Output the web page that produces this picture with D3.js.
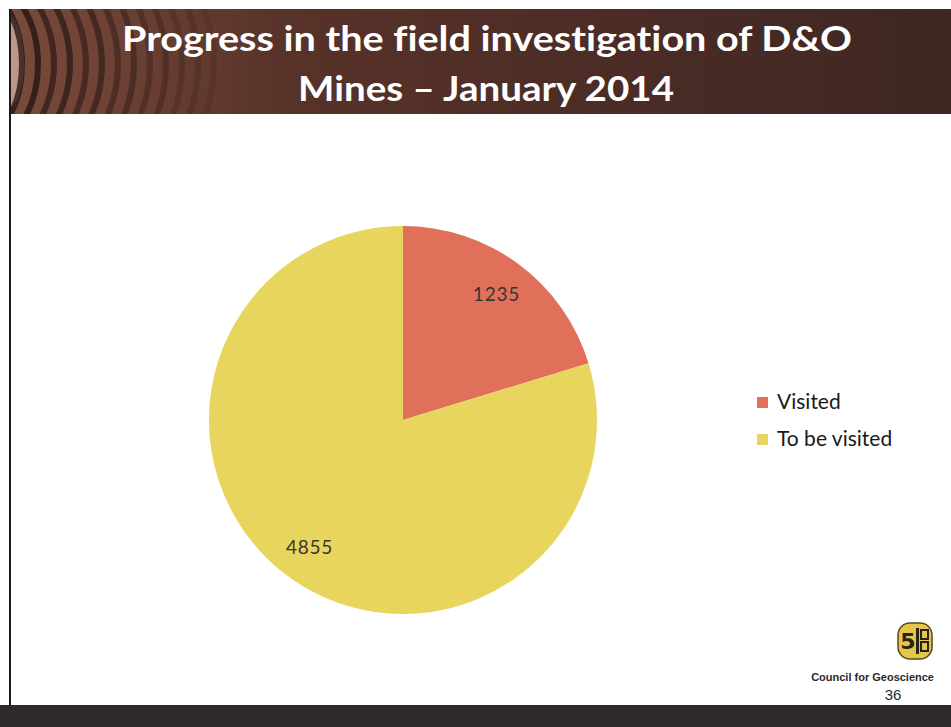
<!DOCTYPE html>
<html>
<head>
<meta charset="utf-8">
<script src="https://cdn.jsdelivr.net/npm/d3@7/dist/d3.min.js"></script>
<style>
  html, body { margin: 0; padding: 0; background: #fff; }
  svg { display: block; }
  text { font-variant-ligatures: none; }
</style>
</head>
<body>
<svg id="slide" width="951" height="727"></svg>
<script>
// Survey status of derelict and ownerless mines
const categories = ["Visited", "To be visited"];
const mineCounts = [1235, 4855];
const sliceColors = ["#e0705a", "#e8d55e"];
const titleLines = ["Progress in the field investigation of D&O", "Mines \u2013 January 2014"];

const W = 951, H = 727;
const svg = d3.select("#slide");
const defs = svg.append("defs");

// Header band
const hdrGrad = defs.append("linearGradient").attr("id", "hdrGrad")
  .attr("x1", "0%").attr("x2", "100%").attr("y1", "0%").attr("y2", "0%");
hdrGrad.append("stop").attr("offset", "0%").attr("stop-color", "#7a4a3c");
hdrGrad.append("stop").attr("offset", "30%").attr("stop-color", "#573229");
hdrGrad.append("stop").attr("offset", "100%").attr("stop-color", "#3f2622");

defs.append("clipPath").attr("id", "hdrClip")
  .append("rect").attr("x", 10).attr("y", 9).attr("width", W - 10).attr("height", 105);

svg.append("rect").attr("x", 10).attr("y", 9).attr("width", W - 10).attr("height", 105)
  .attr("fill", "url(#hdrGrad)");

// wood-grain rings at the left end of the header
const rings = svg.append("g").attr("clip-path", "url(#hdrClip)");
rings.append("ellipse").attr("cx", 8).attr("cy", 62).attr("rx", 16).attr("ry", 46)
  .attr("fill", "#c9a39a").attr("opacity", 0.85);
d3.range(0, 14).forEach(i => {
  const r = 36 + i * 14;
  rings.append("ellipse")
    .attr("cx", -30 + i * 2).attr("cy", 64)
    .attr("rx", r).attr("ry", 70 + i * 9)
    .attr("fill", "none")
    .attr("stroke", i % 2 ? "#2a1714" : "#1f1210")
    .attr("stroke-width", 6)
    .attr("opacity", Math.max(0, 0.85 - i * 0.055));
});

// Title
const title = svg.append("text")
  .attr("text-anchor", "middle")
  .attr("font-family", "Lato, 'Open Sans', sans-serif")
  .attr("font-weight", 700)
  .attr("font-size", 35)
  .attr("fill", "#ffffff");
title.append("tspan").attr("x", 487).attr("y", 51).attr("textLength", 730)
  .attr("lengthAdjust", "spacingAndGlyphs").text(titleLines[0]);
title.append("tspan").attr("x", 486).attr("y", 101).attr("textLength", 376)
  .attr("lengthAdjust", "spacingAndGlyphs").text(titleLines[1]);

// Slide frame: left rule and bottom band
svg.append("rect").attr("x", 9).attr("y", 9).attr("width", 2).attr("height", 697).attr("fill", "#1a1a1a");
svg.append("rect").attr("x", 0).attr("y", 705).attr("width", W).attr("height", 22).attr("fill", "#2e2a29");

// Pie
const cx = 403, cy = 420, radius = 194;
const pie = d3.pie().sort(null).value(d => d.value);
const arc = d3.arc().innerRadius(0).outerRadius(radius);
const labelArc = d3.arc().innerRadius(radius * 0.81).outerRadius(radius * 0.81);
const data = categories.map((c, i) => ({ name: c, value: mineCounts[i], color: sliceColors[i] }));
const arcs = pie(data);

const g = svg.append("g").attr("transform", `translate(${cx},${cy})`);
g.selectAll("path.slice").data(arcs).join("path")
  .attr("class", "slice")
  .attr("d", arc)
  .attr("fill", d => d.data.color);

g.selectAll("text.val").data(arcs).join("text")
  .attr("class", "val")
  .attr("transform", d => `translate(${labelArc.centroid(d)})`)
  .attr("text-anchor", "middle")
  .attr("dominant-baseline", "central")
  .attr("font-family", "Lato, 'Open Sans', sans-serif")
  .attr("font-size", 19)
  .attr("letter-spacing", 0.8)
  .attr("fill", "#3a3330")
  .text(d => d.data.value);

// Legend
const legend = svg.append("g").attr("transform", "translate(757,397)");
const items = legend.selectAll("g").data(data).join("g")
  .attr("transform", (d, i) => `translate(0,${i * 37})`);
items.append("rect").attr("width", 11).attr("height", 11).attr("fill", d => d.color);
items.append("text").attr("x", 20).attr("y", 12)
  .attr("font-family", "Lato, 'Open Sans', sans-serif")
  .attr("font-size", 21)
  .attr("fill", "#1a1a1a")
  .text(d => d.name);

// Council logo
const logo = svg.append("g").attr("transform", "translate(915,641)");
logo.append("rect").attr("x", -17).attr("y", -18).attr("width", 34).attr("height", 36)
  .attr("rx", 12).attr("fill", "#e4c74a").attr("stroke", "#5a4a1a").attr("stroke-width", 1.5);
logo.append("text").attr("x", -7).attr("y", 8).attr("text-anchor", "middle")
  .attr("font-family", "'DejaVu Sans', sans-serif").attr("font-weight", 700)
  .attr("font-size", 22).attr("fill", "#2a2418").text("5");
logo.append("rect").attr("x", 1).attr("y", -13).attr("width", 3).attr("height", 26).attr("fill", "#2a2418");
logo.append("rect").attr("x", 6).attr("y", -11).attr("width", 7).attr("height", 9).attr("fill", "none")
  .attr("stroke", "#2a2418").attr("stroke-width", 2);
logo.append("rect").attr("x", 6).attr("y", 1).attr("width", 7).attr("height", 9).attr("fill", "none")
  .attr("stroke", "#2a2418").attr("stroke-width", 2);

svg.append("text").attr("x", 934).attr("y", 681).attr("text-anchor", "end")
  .attr("font-family", "'Liberation Sans', Arial, sans-serif").attr("font-weight", 700)
  .attr("font-size", 11).attr("fill", "#2a2a2a").text("Council for Geoscience");
svg.append("text").attr("x", 893).attr("y", 700).attr("text-anchor", "middle")
  .attr("font-family", "'Liberation Sans', Arial, sans-serif")
  .attr("font-size", 15).attr("fill", "#2a2a2a").text("36");
</script>
</body>
</html>
